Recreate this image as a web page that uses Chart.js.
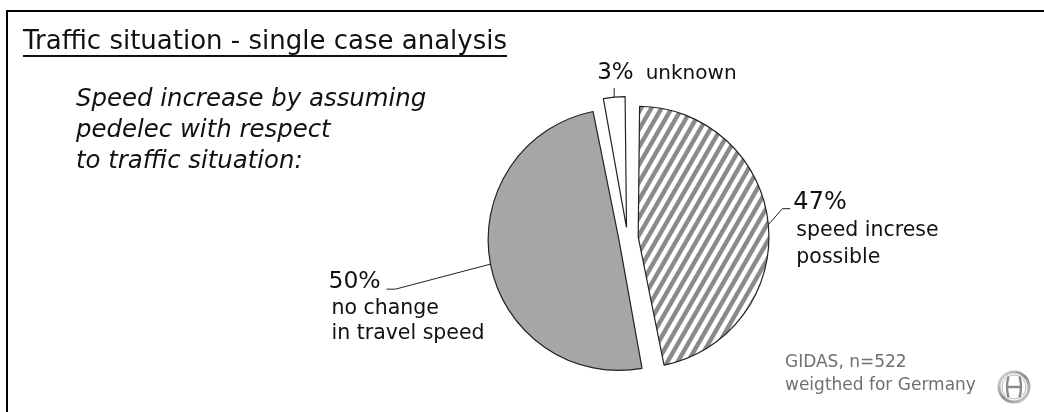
<!DOCTYPE html>
<html lang="en">
<head>
  <meta charset="UTF-8" />
  <title>Traffic situation - single case analysis</title>
  <style>
    body {
      margin: 0;
      background: #fff;
      width: 1044px;
      height: 412px;
      overflow: hidden;
      position: relative;
      font-family: "DejaVu Sans", sans-serif;
      color: #111;
    }
    .frame {
      position: absolute;
      left: 6px;
      top: 10px;
      width: 1100px;
      height: 500px;
      border-top: 2px solid #000;
      border-left: 2px solid #000;
    }
    canvas { position: absolute; left: 0; top: 0; }
    .title {
      position: absolute;
      left: 23px;
      top: 25px;
      font-size: 26px;
      line-height: 30px;
      white-space: nowrap;
      border-bottom: 2px solid #111;
    }
    .intro {
      position: absolute;
      left: 76px;
      top: 82px;
      font-size: 24.4px;
      line-height: 31px;
      font-style: italic;
      white-space: nowrap;
    }
    .source {
      position: absolute;
      left: 785px;
      top: 349.5px;
      font-size: 17px;
      line-height: 23px;
      color: #707070;
      white-space: nowrap;
    }
    .logo { position: absolute; left: 997px; top: 370px; }
  </style>
  <script src="https://cdn.jsdelivr.net/npm/chart.js"></script>
</head>
<body>
  <div class="frame"></div>
  <canvas id="pie" width="1044" height="412"></canvas>
  <div class="title">Traffic situation - single case analysis</div>
  <div class="intro">Speed increase by assuming<br>pedelec with respect<br>to traffic situation:</div>
  <div class="source">GIDAS, n=522<br>weigthed for Germany</div>
  <svg class="logo" width="34" height="34" viewBox="0 0 34 34">
    <defs>
      <linearGradient id="metal" x1="0" y1="0" x2="1" y2="1">
        <stop offset="0" stop-color="#e2e2e2" />
        <stop offset="0.5" stop-color="#8c8c8c" />
        <stop offset="1" stop-color="#cfcfcf" />
      </linearGradient>
    </defs>
    <circle cx="17" cy="17" r="15" fill="none" stroke="url(#metal)" stroke-width="3" />
    <circle cx="17" cy="17" r="12" fill="none" stroke="#b5b5b5" stroke-width="1" />
    <path d="M11.5 6.5 Q8.5 17 11.5 27.5 M22.5 6.5 Q25.5 17 22.5 27.5 M11 17 H23" stroke="#8a8a8a" stroke-width="2.4" fill="none" />
  </svg>

  <script>
    // данные
    const categories = [['speed increse', 'possible'], ['no change', 'in travel speed'], ['unknown']];
    const shares = [47, 50, 3];

    // штриховка для первого сектора
    function makeHatch() {
      const tile = document.createElement('canvas');
      tile.width = 8;
      tile.height = 8;
      const t = tile.getContext('2d');
      t.fillStyle = '#ffffff';
      t.fillRect(0, 0, 8, 8);
      t.fillStyle = '#8a8a8a';
      t.fillRect(0, 0, 4, 8);
      const pattern = document.getElementById('pie').getContext('2d').createPattern(tile, 'repeat');
      pattern.setTransform(new DOMMatrix().rotate(30).scale(1.1));
      return pattern;
    }

    // где рисовать подписи относительно края сектора
    const labelLayout = [
      { leader: [[14, -16], [22, -16]], pct: [25, -16], pctFont: '24px "DejaVu Sans"', lineFont: '20.5px "DejaVu Sans"', lineGap: 27, inline: false },
      { leader: [[-95, 25], [-104, 25]], pct: [-162, 24], pctFont: '23.5px "DejaVu Sans"', lineFont: '20.5px "DejaVu Sans"', lineGap: 25.5, inline: false },
      { leader: [[0, -9]], pct: [-17, -18], pctFont: '23px "DejaVu Sans"', lineFont: '20px "DejaVu Sans"', lineGap: 0, inline: true }
    ];

    const sliceLabels = {
      id: 'sliceLabels',
      afterDatasetsDraw(chart) {
        const ctx = chart.ctx;
        chart.getDatasetMeta(0).data.forEach((arc, i) => {
          const p = arc.getProps(['x', 'y', 'startAngle', 'endAngle', 'outerRadius', 'circumference'], true);
          const off = (arc.options.offset || 0) / 4;
          const fix = 1 - Math.sin(Math.min(Math.PI, p.circumference));
          const mid = (p.startAngle + p.endAngle) / 2;
          const r = off + p.outerRadius + off * fix;
          const ex = p.x + Math.cos(mid) * r;
          const ey = p.y + Math.sin(mid) * r;
          const lay = labelLayout[i];

          ctx.save();
          ctx.strokeStyle = '#222';
          ctx.lineWidth = 1;
          ctx.beginPath();
          ctx.moveTo(ex, ey);
          lay.leader.forEach(([dx, dy]) => ctx.lineTo(ex + dx, ey + dy));
          ctx.stroke();

          ctx.fillStyle = '#111';
          ctx.textAlign = 'left';
          ctx.textBaseline = 'alphabetic';
          const tx = ex + lay.pct[0];
          const ty = ey + lay.pct[1];
          const pctText = shares[i] + '%';
          ctx.font = lay.pctFont;
          ctx.fillText(pctText, tx, ty);
          const w = ctx.measureText(pctText).width;
          ctx.font = lay.lineFont;
          categories[i].forEach((line, k) => {
            if (lay.inline) ctx.fillText(line, tx + w + 12, ty);
            else ctx.fillText(line, tx + 3, ty + lay.lineGap * (k + 1));
          });
          ctx.restore();
        });
      }
    };

    const ctx = document.getElementById('pie').getContext('2d');
    const chart = new Chart(ctx, {
      type: 'pie',
      data: {
        labels: categories,
        datasets: [{
          data: shares,
          backgroundColor: [makeHatch(), '#a6a6a6', '#ffffff'],
          borderColor: '#222',
          borderWidth: 1.2,
          offset: [43, 35, 43]
        }]
      },
      options: {
        responsive: false,
        animation: false,
        events: [],
        radius: 122,
        layout: { padding: { left: 411, right: 200, top: 84, bottom: 20 } },
        plugins: {
          legend: { display: false },
          tooltip: { enabled: false }
        }
      },
      plugins: [sliceLabels]
    });
  </script>
</body>
</html>
